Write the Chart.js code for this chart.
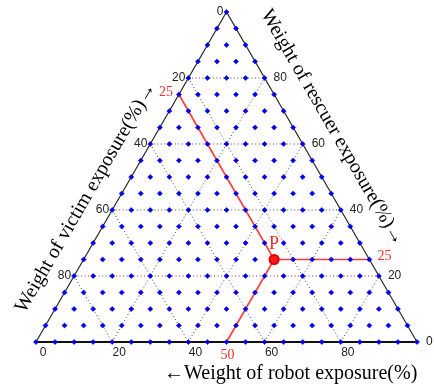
<!DOCTYPE html>
<html>
<head>
<meta charset="utf-8">
<script src="https://cdn.jsdelivr.net/npm/chart.js@4/dist/chart.umd.min.js"></script>
<style>
  html, body { margin: 0; padding: 0; background: #ffffff; }
  #c { display: block; }
</style>
</head>
<body>
<canvas id="c" width="434" height="389"></canvas>
<script>
// Ternary diagram: rescuer weight at the top vertex, victim weight at the
// bottom-left vertex, robot weight at the bottom-right vertex (all in %).
const latticeLevels = [0, 5, 10, 15, 20, 25, 30, 35, 40, 45, 50, 55, 60, 65, 70, 75, 80, 85, 90, 95, 100];
const gridLevels = [20, 40, 60, 80];
const victimTicks = [0, 20, 40, 60, 80];
const rescuerTicks = [80, 60, 40, 20, 0];
const robotTicks = [0, 20, 40, 60, 80];
const pointP = { name: 'P', rescuer: 25, victim: 25, robot: 50 };

const titleRobot = '\u2190Weight of robot exposure(%)';
const titleVictim = 'Weight of victim exposure(%)\u2192';
const titleRescuer = 'Weight of rescuer exposure(%)\u2192';

const H = Math.sqrt(3) / 2;
// barycentric (rescuer, victim, robot) -> plane coordinates
function tern(rescuer, victim, robot) {
  return { x: (robot + rescuer / 2) / 100, y: rescuer * H / 100 };
}

// lattice of blue marks
const lattice = [];
for (const t of latticeLevels) {
  for (const r of latticeLevels) {
    if (t + r <= 100) lattice.push(tern(t, 100 - t - r, r));
  }
}

// dotted grid lines
const gridSets = [];
const dottedStyle = {
  type: 'line', showLine: true, pointRadius: 0, borderColor: '#444444',
  borderWidth: 1, borderDash: [1, 2.5], fill: false, order: 50
};
for (const v of gridLevels) {
  gridSets.push(Object.assign({ data: [tern(v, 100 - v, 0), tern(v, 0, 100 - v)] }, dottedStyle));
  gridSets.push(Object.assign({ data: [tern(100 - v, v, 0), tern(0, v, 100 - v)] }, dottedStyle));
  gridSets.push(Object.assign({ data: [tern(0, 100 - v, v), tern(100 - v, 0, v)] }, dottedStyle));
}

// red guide lines from P to the three sides
const P = tern(pointP.rescuer, pointP.victim, pointP.robot);
const pVictimEnd = tern(100 - pointP.victim, pointP.victim, 0);
const pRescuerEnd = tern(pointP.rescuer, 0, 100 - pointP.rescuer);
const pRobotEnd = tern(0, 100 - pointP.robot, pointP.robot);
const redStyle = {
  type: 'line', showLine: true, pointRadius: 0, borderColor: '#ff3a3a',
  borderWidth: 1.6, fill: false, order: 20
};

const datasets = [
  { type: 'scatter', data: [P], pointRadius: 4.5, pointBackgroundColor: '#ff1a1a',
    pointBorderColor: '#e00000', pointBorderWidth: 2.2, order: 0 },
  { type: 'scatter', data: lattice, pointStyle: 'rectRot', pointRadius: 2.6,
    pointBackgroundColor: '#0000e8', pointBorderColor: '#0000e8', pointBorderWidth: 0.5, order: 5 },
  Object.assign({ data: [P, pVictimEnd] }, redStyle),
  Object.assign({ data: [P, pRescuerEnd] }, redStyle),
  Object.assign({ data: [P, pRobotEnd] }, redStyle),
  { type: 'line', showLine: true, pointRadius: 0, borderColor: '#111111', borderWidth: 2,
    data: [tern(0, 100, 0), tern(0, 0, 100)], order: 30 },
  { type: 'line', showLine: true, pointRadius: 0, borderColor: '#2a2a2a', borderWidth: 1.2,
    data: [tern(0, 0, 100), tern(100, 0, 0), tern(0, 100, 0)], order: 31 }
].concat(gridSets);

const labelPlugin = {
  id: 'ternaryLabels',
  afterDatasetsDraw(chart) {
    const { ctx } = chart;
    const sx = chart.scales.x, sy = chart.scales.y;
    const px = p => ({ x: sx.getPixelForValue(p.x), y: sy.getPixelForValue(p.y) });
    ctx.save();

    // tick labels
    ctx.font = '12px "Liberation Sans", Arial, sans-serif';
    ctx.fillStyle = '#222';
    ctx.textBaseline = 'middle';
    ctx.textAlign = 'right';
    for (const v of victimTicks) {
      const q = px(tern(100 - v, v, 0));
      ctx.fillText(String(v), q.x - 3, q.y);
    }
    ctx.textAlign = 'left';
    for (const t of rescuerTicks) {
      const q = px(tern(t, 0, 100 - t));
      ctx.fillText(String(t), q.x + 9, q.y);
    }
    ctx.textAlign = 'center';
    for (const r of robotTicks) {
      const q = px(tern(0, 100 - r, r));
      ctx.fillText(String(r), q.x + 7, q.y + 11);
    }

    // values of P on the sides
    ctx.fillStyle = '#ff2a2a';
    ctx.font = '14px "Liberation Serif", "Times New Roman", serif';
    let q = px(pVictimEnd);
    ctx.textAlign = 'right';
    ctx.fillText(String(pointP.victim), q.x - 6, q.y - 2);
    q = px(pRescuerEnd);
    ctx.textAlign = 'left';
    ctx.fillText(String(pointP.rescuer), q.x + 8, q.y - 3);
    q = px(pRobotEnd);
    ctx.textAlign = 'center';
    ctx.fillText(String(pointP.robot), q.x + 1, q.y + 13);
    q = px(P);
    ctx.font = '18px "Liberation Serif", "Times New Roman", serif';
    ctx.fillText(pointP.name, q.x, q.y - 15);

    // axis titles
    ctx.fillStyle = '#000';
    ctx.font = '20px "Liberation Serif", "Times New Roman", serif';
    const bl = px(tern(0, 100, 0)), br = px(tern(0, 0, 100)), tp = px(tern(100, 0, 0));
    ctx.textAlign = 'left';
    ctx.fillText(titleRobot, bl.x + 128, bl.y + 32);

    const side = (a, b, along, out, angle, text) => {
      const len = Math.hypot(b.x - a.x, b.y - a.y);
      const dx = (b.x - a.x) / len, dy = (b.y - a.y) / len;
      let nx = dy, ny = -dx;
      if (ny > 0) { nx = -nx; ny = -ny; }
      const cx = a.x + dx * along + nx * out, cy = a.y + dy * along + ny * out;
      ctx.save();
      ctx.translate(cx, cy);
      ctx.rotate(angle);
      ctx.textAlign = 'center';
      ctx.fillText(text, 0, 0);
      ctx.restore();
    };
    side(bl, tp, 150, 29, -Math.PI / 3, titleVictim);
    side(tp, br, 153, 34, Math.PI / 3, titleRescuer);

    ctx.restore();
  }
};

new Chart(document.getElementById('c'), {
  type: 'scatter',
  data: { datasets },
  options: {
    responsive: false,
    animation: false,
    clip: false,
    layout: { padding: 0, autoPadding: false },
    plugins: { legend: { display: false }, tooltip: { enabled: false } },
    scales: {
      x: { type: 'linear', display: false, min: -36 / 381, max: 398 / 381 },
      y: { type: 'linear', display: false, min: -47 / 381, max: H + 12 / 381 }
    }
  },
  plugins: [labelPlugin]
});
</script>
</body>
</html>
